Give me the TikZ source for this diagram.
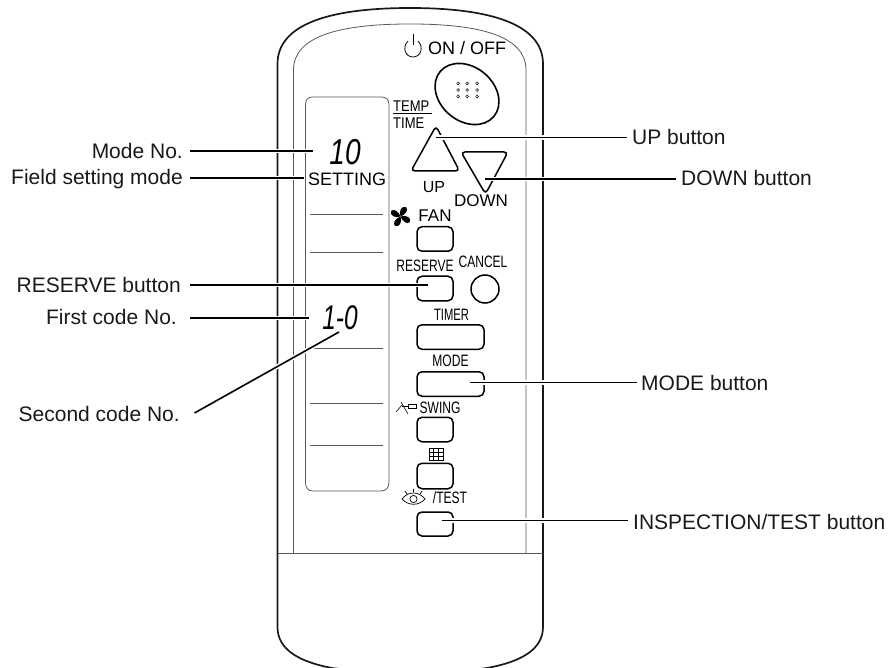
\documentclass[tikz,border=0pt]{standalone}
\usepackage{graphicx}
\usepackage{fontspec}
\usetikzlibrary{shapes.geometric}
\setmainfont{Liberation Sans}
\tikzset{
  x=1pt,y=-1pt,
  body/.style={line width=1.7pt,black!90},
  thin line/.style={line width=0.8pt,black!65},
  leader/.style={line width=1.6pt,black,preaction={draw,white,line width=4.5pt}},
  btn/.style={draw,line width=1.5pt,rounded corners=5pt,inner sep=0pt,minimum height=24.5pt,minimum width=36pt},
  lbl/.style={inner sep=0pt,font=\fontsize{21}{23}\selectfont,text=black!90},
  captxt/.style={inner sep=0pt,font=\fontsize{17}{18}\selectfont,text=black},
  nar/.style={inner sep=0pt,font=\fontsize{16.5}{18}\selectfont,text=black},
  segtxt/.style={inner sep=0pt,font=\fontsize{36}{36}\selectfont\itshape,text=black}
}
\begin{document}
\begin{tikzpicture}
\useasboundingbox (0,0) rectangle (891,668);
% case
\draw[body] (277.5,627) -- (277.5,64) .. controls (277.5,24) and (330,8) .. (410,8)
  .. controls (490,8) and (543,24) .. (543,64) -- (543,627)
  .. controls (543,650) and (520,662) .. (487,668) .. controls (465,672) and (355,672) .. (332,668)
  .. controls (300,662) and (277.5,650) .. (277.5,627) -- cycle;
\draw[thin line] (293.5,553.5) -- (293.5,70) .. controls (293.5,36) and (340,24) .. (410,24)
  .. controls (480,24) and (526,36) .. (526,70) -- (526,553.5);
\draw[thin line] (277.5,553.5) -- (543,553.5);
% display
\draw[thin line] (305.5,105) .. controls (305.5,99) and (308,97) .. (313,97) -- (381,97)
  .. controls (386,97) and (389,99) .. (389,105) -- (389,482)
  .. controls (389,488) and (386,491) .. (381,491) -- (313,491)
  .. controls (308,491) and (305.5,488) .. (305.5,482) -- cycle;
\foreach \yy in {214,252,348,403,445} \draw[thin line] (310,\yy) -- (383,\yy);
% display texts
\node[segtxt] (ten) at (345,152) {\scalebox{0.78}[1]{10}};
\node[segtxt] (code) at (340,318) {\scalebox{0.68}[0.95]{1-0}};
\node[captxt,font=\fontsize{18}{18}\selectfont] (setting) at (347,179) {SETTING};
% power
\draw[line width=0.8pt] (408,41) .. controls (402,47) and (405,57) .. (413,57) .. controls (421,57) and (424,47) .. (418,41);
\draw[line width=0.8pt] (413,34) -- (413,45);
\node[captxt,font=\fontsize{18}{19}\selectfont,anchor=west] (onoff) at (428,48) {ON / OFF};
% on off button
\node[draw,ellipse,line width=1.6pt,minimum width=70pt,minimum height=54pt,inner sep=0pt,rotate=-40] (power) at (467,94) {};
\foreach \xx in {458,467,477} \foreach \yy in {83.5,90,96.5} \draw[line width=0.5pt] (\xx,\yy) circle[radius=1.4];
% temp/time
\node[nar,font=\fontsize{15.5}{17}\selectfont,anchor=west] (temp) at (393,106) {\scalebox{0.84}[1]{TEMP}};
\node[nar,font=\fontsize{15.5}{17}\selectfont,anchor=west] (time) at (393,123) {\scalebox{0.84}[1]{TIME}};
\draw[line width=0.8pt] (393,113) -- (432,113);
% arrows
\draw[line width=1.5pt,rounded corners=4pt] (436,126) -- (459.5,171) -- (411,171) -- cycle;
\draw[line width=1.5pt,rounded corners=4pt] (461,152) -- (508,152) -- (485.5,194) -- cycle;
\coordinate (upEnd) at (436,137.5);
\coordinate (downEnd) at (485,179);
\node[captxt,font=\fontsize{16}{17}\selectfont] (up) at (434,187) {UP};
\node[captxt] (down) at (481,201) {DOWN};
% fan
\begin{scope}[shift={(400.5,216.5)}]
  \foreach \a in {20,110,200,290}
    \fill[rotate=\a] (0,0) .. controls (0,-6) and (5,-10) .. (8.5,-7) .. controls (10,-3) and (5,0) .. (0,0);
\end{scope}
\node[captxt] (fan) at (435,216) {FAN};
% buttons
\node[btn] (fanbtn) at (435,239) {};
\node[nar] (reserve) at (425,266) {\scalebox{0.73}[1]{RESERVE}};
\node[nar] (cancel) at (483,262) {\scalebox{0.73}[1]{CANCEL}};
\node[btn] (resbtn) at (435,288.5) {};
\node[draw,circle,line width=1.5pt,minimum size=28pt,inner sep=0pt] (cancelbtn) at (485,289) {};
\node[nar] (timer) at (451.5,315) {\scalebox{0.68}[1]{TIMER}};
\node[btn,minimum width=67pt] (timerbtn) at (450.5,337) {};
\node[nar] (mode) at (450.5,361) {\scalebox{0.73}[1]{MODE}};
\node[btn,minimum width=67pt] (modebtn) at (450.5,384) {};
\node[nar] (swing) at (440,408) {\scalebox{0.73}[1]{SWING}};
\draw[line width=0.6pt] (396,412) -- (402,405) (401,402) -- (408,414);
\draw[line width=0.6pt] (408,404) rectangle (416,408) (402,406) -- (408,406);
\node[btn] (swingbtn) at (435,429.5) {};
% filter icon
\draw[line width=0.6pt] (429,448) rectangle (443,460);
\foreach \xx in {433.7,438.3} \draw[line width=0.6pt] (\xx,448) -- (\xx,460);
\foreach \yy in {452,456} \draw[line width=0.6pt] (429,\yy) -- (443,\yy);
\node[btn,minimum height=25.5pt] (filterbtn) at (435,476) {};
% eye icon
\draw[line width=0.7pt] (402,499) .. controls (408,491) and (419,491) .. (425,499) .. controls (419,506) and (408,506) .. (402,499) -- cycle;
\draw[line width=0.7pt] (413.5,499) circle[radius=3.6];
\draw[line width=0.7pt] (413.5,489) -- (413.5,492) (405,491) -- (407,494) (422,491) -- (420,494);
\node[nar] (test) at (450,498) {\scalebox{0.73}[1]{/TEST}};
\node[btn,minimum height=24pt] (testbtn) at (435,524) {};
% labels
\node[lbl,anchor=base east] (lMode) at (183,158.5) {Mode No.};
\node[lbl,anchor=base east] (lField) at (183,184.5) {Field setting mode};
\node[lbl,anchor=base east] (lRes) at (181,292.7) {RESERVE button};
\node[lbl,anchor=base east] (lFirst) at (177,324.8) {First code No.};
\node[lbl,anchor=base east] (lSecond) at (180,421.7) {Second code No.};
\node[lbl,anchor=base west] (lUp) at (632,145) {UP button};
\node[lbl,anchor=base west] (lDown) at (681,186) {DOWN button};
\node[lbl,anchor=base west] (lMod) at (641,390) {MODE button};
\node[lbl,anchor=base west] (lIns) at (633,529) {INSPECTION/TEST button};
% leaders
\coordinate (sMode) at (190,151);
\coordinate (sField) at (190,178);
\coordinate (sRes) at (190,285);
\coordinate (sFirst) at (190,318);
\coordinate (sSecond) at (194.5,413);
\coordinate (eMode) at (313,151);
\coordinate (eField) at (304,178);
\coordinate (eRes) at (428,285);
\coordinate (eFirst) at (309,318);
\coordinate (eSecond) at (339,332);
\coordinate (eMod) at (470,382.5);
\coordinate (eIns) at (442,520.5);
\coordinate (tUp) at (627,137.5);
\coordinate (tDown) at (676,179);
\coordinate (tMod) at (637,382.5);
\coordinate (tIns) at (628,520.5);
\draw[leader] (sMode) -- (eMode);
\draw[leader] (sField) -- (eField);
\draw[leader] (sRes) -- (eRes);
\draw[leader] (sFirst) -- (eFirst);
\draw[leader] (sSecond) -- (eSecond);
\draw[leader] (upEnd) -- (tUp);
\draw[leader] (downEnd) -- (tDown);
\draw[leader] (eMod) -- (tMod);
\draw[leader] (eIns) -- (tIns);
\end{tikzpicture}
\end{document}
